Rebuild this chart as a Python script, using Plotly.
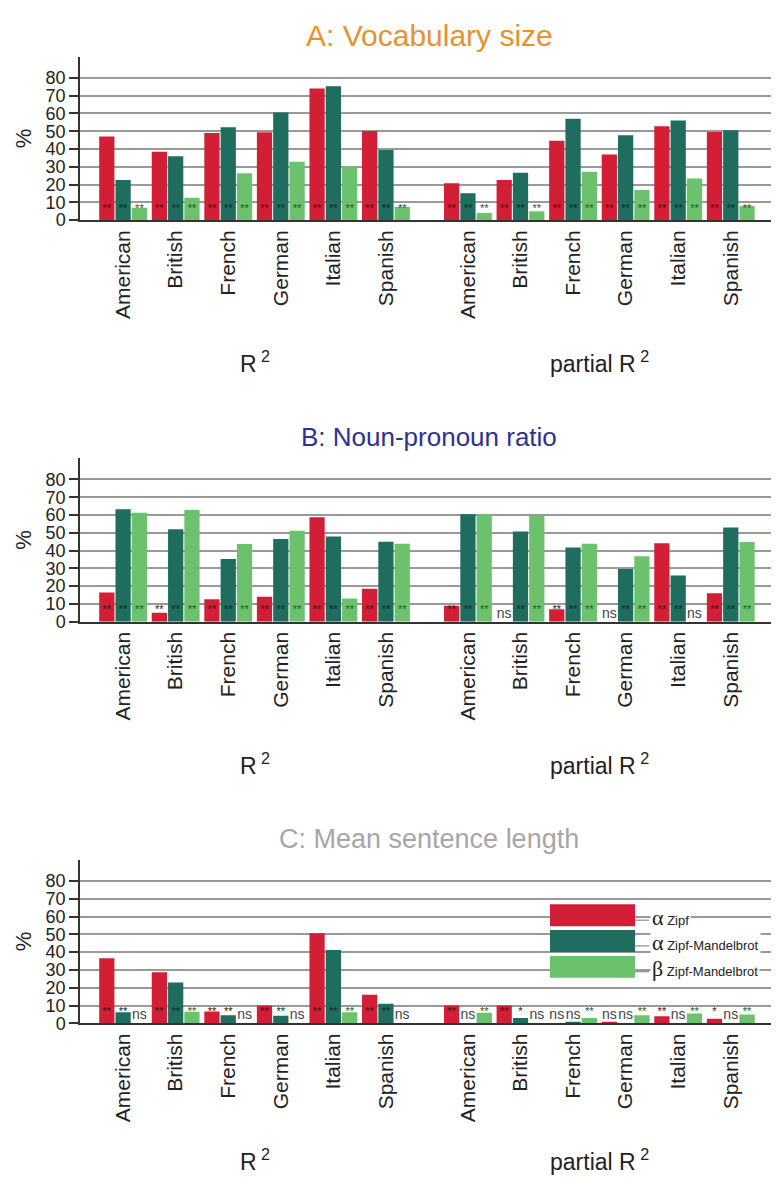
import plotly.graph_objects as go

# categories
languages = ["American", "British", "French", "German", "Italian", "Spanish"]
group_labels = ["R<sup> 2</sup>", "partial R<sup> 2</sup>"]
panel_titles = ["A: Vocabulary size", "B: Noun-pronoun ratio", "C: Mean sentence length"]
title_colors = ["#E8912D", "#2E3192", "#A6A6A6"]
y_ticks = [0, 10, 20, 30, 40, 50, 60, 70, 80]

# values in %: six languages for R2, then the same six for partial R2
a_zipf = [47, 38.5, 49, 49.5, 74, 50.2, 20.8, 22.6, 44.6, 37, 52.8, 49.6]
a_zm_alpha = [22.6, 36, 52.2, 60.6, 75.3, 39.4, 15.2, 26.7, 57.1, 47.8, 56.1, 50.6]
a_zm_beta = [7, 12.6, 26.4, 32.9, 30, 7.5, 4, 5, 27.3, 17, 23.4, 8]

b_zipf = [16.4, 5, 12.6, 14.1, 58.7, 18.6, 9, 0, 7, 0, 44.2, 16]
b_zm_alpha = [63.2, 52, 35.3, 46.5, 48, 45, 60.4, 50.7, 41.8, 29.7, 26, 53]
b_zm_beta = [61.3, 62.8, 43.7, 51.1, 13, 43.9, 60.4, 59.5, 43.9, 36.8, 0, 44.8]

c_zipf = [36.6, 28.7, 6.7, 10, 50.6, 16, 10, 10, 0, 0.8, 4, 2.5]
c_zm_alpha = [6.2, 22.9, 4.5, 4.3, 41.2, 11, 0, 3, 0.8, 0, 0, 0]
c_zm_beta = [0, 6.5, 0, 0, 6.2, 0, 6, 0, 3, 4.5, 5.5, 5]

# significance labels
a_sig_zipf = ["**", "**", "**", "**", "**", "**", "**", "**", "**", "**", "**", "**"]
a_sig_alpha = ["**", "**", "**", "**", "**", "**", "**", "**", "**", "**", "**", "**"]
a_sig_beta = ["**", "**", "**", "**", "**", "**", "**", "**", "**", "**", "**", "**"]

b_sig_zipf = ["**", "**", "**", "**", "**", "**", "**", "ns", "**", "ns", "**", "**"]
b_sig_alpha = ["**", "**", "**", "**", "**", "**", "**", "**", "**", "**", "**", "**"]
b_sig_beta = ["**", "**", "**", "**", "**", "**", "**", "**", "**", "**", "ns", "**"]

c_sig_zipf = ["**", "**", "**", "**", "**", "**", "**", "**", "ns", "ns", "**", "*"]
c_sig_alpha = ["**", "**", "**", "**", "**", "**", "ns", "*", "ns", "ns", "ns", "ns"]
c_sig_beta = ["ns", "**", "ns", "ns", "**", "ns", "**", "ns", "**", "**", "**", "**"]

panel_values = [
    [a_zipf, a_zm_alpha, a_zm_beta],
    [b_zipf, b_zm_alpha, b_zm_beta],
    [c_zipf, c_zm_alpha, c_zm_beta],
]
panel_sigs = [
    [a_sig_zipf, a_sig_alpha, a_sig_beta],
    [b_sig_zipf, b_sig_alpha, b_sig_beta],
    [c_sig_zipf, c_sig_alpha, c_sig_beta],
]

bar_colors = ["#D31F35", "#1F6D5E", "#6CC26C"]
star_colors = ["#4A0D14", "#0B2B24", "#1D5A35"]
title_sizes = [30, 26, 27]
FONT = "Liberation Sans, Arial, sans-serif"

W, H = 779, 1177
ML = 72
ROW_STEP = 405


def py(p):
    return 1 - p / H


def px(p):
    # paper x runs over the plot area only (left margin excluded)
    return (p - ML) / (W - ML)


# x positions of the language groups (gap between R2 and partial R2)
x_pos = [0, 1, 2, 3, 4, 5, 6.56, 7.56, 8.56, 9.56, 10.56, 11.56]
offsets = [-0.31, 0, 0.31]
bar_w = 0.29

fig = go.Figure()
layout = dict(
    width=W, height=H,
    margin=dict(l=ML, r=0, t=0, b=0),
    paper_bgcolor="white", plot_bgcolor="white",
    barmode="overlay", showlegend=False,
    font=dict(family=FONT, color="#222"),
)
annotations = []
shapes = []

for k in range(3):
    xa = "x" if k == 0 else f"x{k+1}"
    ya = "y" if k == 0 else f"y{k+1}"
    for s in range(3):
        xs = [p + offsets[s] for p in x_pos]
        fig.add_trace(go.Bar(
            x=xs, y=panel_values[k][s], width=bar_w,
            marker=dict(color=bar_colors[s], line=dict(width=0)),
            xaxis=xa, yaxis=ya, hoverinfo="skip",
        ))
        sig = panel_sigs[k][s]
        fig.add_trace(go.Scatter(
            x=xs,
            y=[4.3 if t == "ns" else 6.3 for t in sig],
            text=sig, mode="text",
            textfont=dict(
                family=FONT,
                size=[14 if t == "ns" else 11 for t in sig],
                color=["#444444" if t == "ns" else star_colors[s] for t in sig],
            ),
            xaxis=xa, yaxis=ya, hoverinfo="skip",
        ))

    top = 49 + ROW_STEP * k
    bot = 214 + ROW_STEP * k
    layout["xaxis" if k == 0 else f"xaxis{k+1}"] = dict(
        domain=[0, 1], range=[-0.82, 12.63], anchor=ya,
        tickvals=x_pos, ticktext=languages + languages, tickangle=-90,
        tickfont=dict(size=21, color="#222"),
        showline=True, linecolor="#333", linewidth=1.5,
        showgrid=False, zeroline=False, ticks="",
    )
    layout["yaxis" if k == 0 else f"yaxis{k+1}"] = dict(
        domain=[py(bot), py(top)], range=[0, 92], anchor=xa,
        tickvals=y_ticks, ticks="outside", ticklen=9, tickwidth=1.5,
        tickcolor="#333", tickfont=dict(size=18, color="#222"),
        showline=True, linecolor="#333", linewidth=1.5,
        showgrid=True, gridcolor="#999999", gridwidth=1.5, zeroline=False,
        title=dict(text="%", font=dict(size=22, color="#222"), standoff=8),
    )

    annotations.append(dict(
        text=panel_titles[k], xref="paper", yref="paper",
        x=px(421), y=py(28 + ROW_STEP * k), xanchor="center", yanchor="middle",
        showarrow=False,
        font=dict(size=title_sizes[k], color=title_colors[k], family=FONT),
    ))
    for g in range(2):
        annotations.append(dict(
            text=group_labels[g], xref=xa, yref="paper",
            x=sum(x_pos[g * 6:(g + 1) * 6]) / 6,
            y=py(min(357 + ROW_STEP * k, 1162)),
            xanchor="center", yanchor="middle",
            showarrow=False, font=dict(size=23, color="#222", family=FONT),
        ))

# legend drawn inside panel C
leg_names = [("α", "Zipf"), ("α", "Zipf-Mandelbrot"), ("β", "Zipf-Mandelbrot")]
for s in range(3):
    y0 = 904 + 26 * s
    shapes.append(dict(
        type="rect", xref="paper", yref="paper", layer="above",
        x0=px(542), x1=px(627), y0=py(y0), y1=py(y0 + 22),
        fillcolor=bar_colors[s], line=dict(width=0),
    ))
    shapes.append(dict(
        type="line", xref="paper", yref="paper", layer="above",
        x0=px(627), x1=px(641), y0=py(y0 + 16), y1=py(y0 + 16),
        line=dict(color="#777", width=1),
    ))
    annotations.append(dict(
        text=f"<span style='font-family:Liberation Serif, serif;font-size:22px'>{leg_names[s][0]}</span>"
             f" <span style='font-size:13px'>{leg_names[s][1]}</span>",
        xref="paper", yref="paper", x=px(642), y=py(y0 + 13),
        xanchor="left", yanchor="middle", showarrow=False,
        bgcolor="white", font=dict(size=13, color="#222", family=FONT),
    ))

layout["annotations"] = annotations
layout["shapes"] = shapes
fig.update_layout(**layout)

fig.write_html("out.html")
